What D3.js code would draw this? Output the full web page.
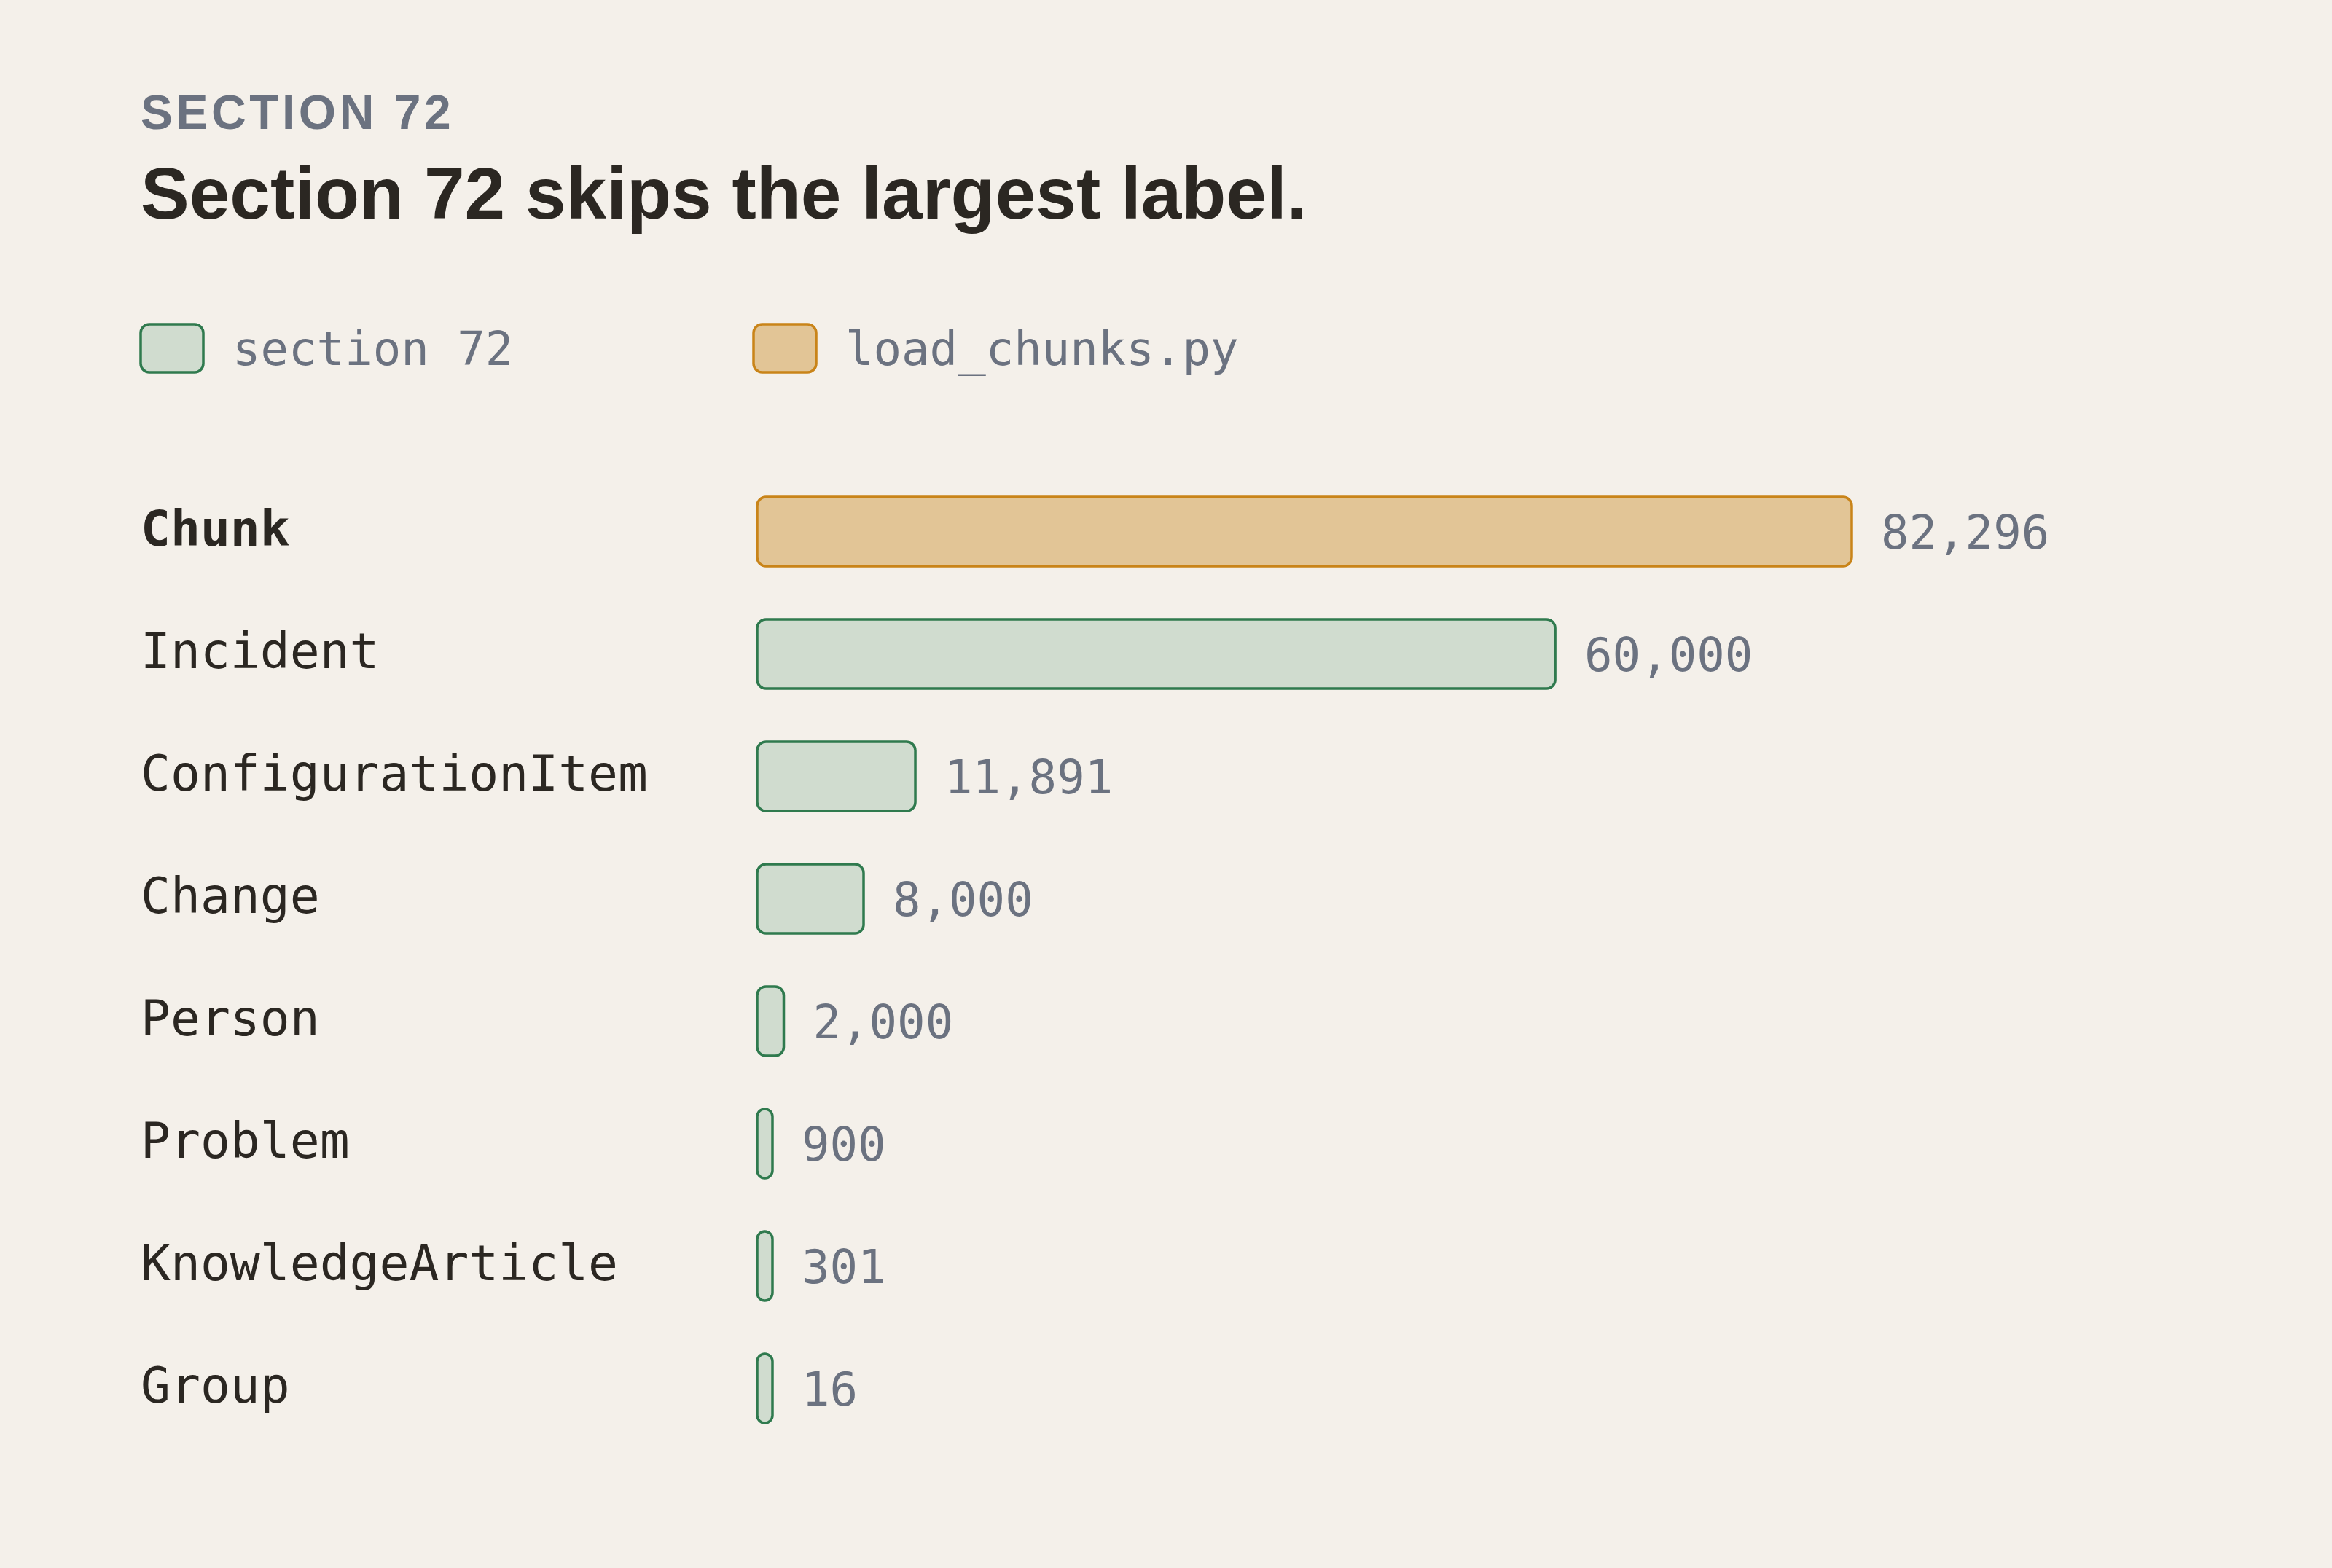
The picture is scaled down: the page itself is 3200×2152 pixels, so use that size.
<!DOCTYPE html>
<html>
<head>
<meta charset="utf-8">
<script src="https://cdn.jsdelivr.net/npm/d3@7"></script>
<style>
  html, body { margin: 0; padding: 0; background: #f4f0ea; }
  svg { display: block; }
</style>
</head>
<body>
<script>
var categories = [
  "Chunk",
  "Incident",
  "ConfigurationItem",
  "Change",
  "Person",
  "Problem",
  "KnowledgeArticle",
  "Group",
];
var counts = [82296, 60000, 11891, 8000, 2000, 900, 301, 16];
var sources = [
  "load_chunks.py",
  "section 72",
  "section 72",
  "section 72",
  "section 72",
  "section 72",
  "section 72",
  "section 72",
];
var legendLabels = ["section 72", "load_chunks.py"];

var width = 3200,
  height = 2152,
  leftMargin = 193,
  barLeft = 1039,
  barMaxWidth = 1502,
  rowTop = 682,
  rowStep = 168,
  barHeight = 95,
  minBarWidth = 21;

var mono = "'DejaVu Sans Mono', monospace",
  sans = "'Liberation Sans', Arial, Helvetica, sans-serif";

var styles = {
  "section 72": { fill: "#d0dccf", stroke: "#2f7a4e" },
  "load_chunks.py": { fill: "#e2c596", stroke: "#c98419" },
};

var rows = categories.map(function (c, i) {
  return { name: c, value: counts[i], source: sources[i] };
});

var svg = d3
  .select("body")
  .append("svg")
  .attr("width", width)
  .attr("height", height);

svg
  .append("rect")
  .attr("width", width)
  .attr("height", height)
  .attr("fill", "#f4f0ea");

// header
svg
  .append("text")
  .attr("x", leftMargin)
  .attr("y", 177)
  .attr("font-family", sans)
  .attr("font-weight", "bold")
  .attr("font-size", 66)
  .attr("letter-spacing", 4.5)
  .attr("fill", "#6b7280")
  .text("SECTION 72");

svg
  .append("text")
  .attr("x", leftMargin)
  .attr("y", 300)
  .attr("font-family", sans)
  .attr("font-weight", "bold")
  .attr("font-size", 100)
  .attr("fill", "#2b2722")
  .text("Section 72 skips the largest label.");

// legend
var legendX = d3.scaleOrdinal().domain(legendLabels).range([193, 1034]);

var legend = svg
  .selectAll(".legend")
  .data(legendLabels)
  .enter()
  .append("g")
  .attr("class", "legend")
  .attr("transform", function (d) {
    return "translate(" + legendX(d) + ",445)";
  });

legend
  .append("rect")
  .attr("width", 86)
  .attr("height", 66)
  .attr("rx", 12)
  .attr("fill", (d) => styles[d].fill)
  .attr("stroke", (d) => styles[d].stroke)
  .attr("stroke-width", 3.5);

legend
  .append("text")
  .attr("x", 126)
  .attr("y", 56)
  .attr("font-family", mono)
  .attr("font-size", 64)
  .attr("fill", "#6b7280")
  .text((d) => d);

// bars
var x = d3
  .scaleLinear()
  .domain([0, d3.max(counts)])
  .range([0, barMaxWidth]);

var pad = (rowStep - barHeight) / rowStep;
var y = d3
  .scaleBand()
  .domain(categories)
  .range([
    rowTop - (rowStep - barHeight) / 2,
    rowTop - (rowStep - barHeight) / 2 + rowStep * categories.length,
  ])
  .paddingInner(pad)
  .paddingOuter(pad / 2);

function barWidth(d) {
  return Math.max(minBarWidth, x(d.value));
}

var row = svg
  .selectAll(".row")
  .data(rows)
  .enter()
  .append("g")
  .attr("class", "row")
  .attr("transform", (d) => "translate(0," + y(d.name) + ")");

row
  .append("text")
  .attr("x", leftMargin)
  .attr("y", y.bandwidth() / 2 + 19)
  .attr("font-family", mono)
  .attr("font-size", 68)
  .attr("font-weight", (d, i) => (i === 0 ? "bold" : "normal"))
  .attr("fill", "#2b2722")
  .text((d) => d.name);

row
  .append("rect")
  .attr("x", barLeft)
  .attr("y", 0)
  .attr("width", barWidth)
  .attr("height", y.bandwidth())
  .attr("rx", (d) => Math.min(12, barWidth(d) / 2))
  .attr("fill", (d) => styles[d.source].fill)
  .attr("stroke", (d) => styles[d.source].stroke)
  .attr("stroke-width", 3.5);

row
  .append("text")
  .attr("x", (d) => barLeft + barWidth(d) + 40)
  .attr("y", y.bandwidth() / 2 + 23)
  .attr("font-family", mono)
  .attr("font-size", 64)
  .attr("fill", "#6b7280")
  .text((d) => d3.format(",")(d.value));
</script>
</body>
</html>
